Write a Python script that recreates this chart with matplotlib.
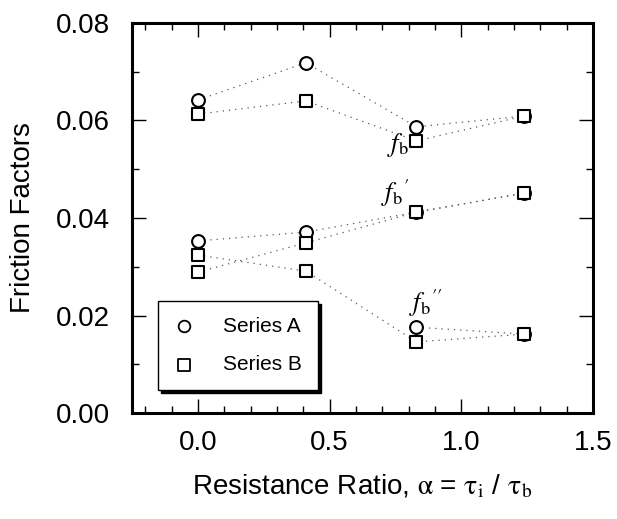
import matplotlib
matplotlib.use("Agg")
import matplotlib.pyplot as plt
import numpy as np
from matplotlib.ticker import MultipleLocator, FormatStrFormatter

# resistance ratio positions
alpha = [0.0, 0.41, 0.83, 1.24]

# f_b
fb_a = [0.0642, 0.0718, 0.0587, 0.0609]
fb_b = [0.0613, 0.0640, 0.0558, 0.0609]
# f_b'
fb1_a = [0.0353, 0.0371, 0.0412, 0.0451]
fb1_b = [0.0289, 0.0349, 0.0412, 0.0451]
# f_b''
fb2_a = [np.nan, np.nan, 0.0176, 0.0162]
fb2_b = [0.0324, 0.0291, 0.0146, 0.0162]

labels = {"fb": (0.76, 0.0550, r"$f_{\mathrm{b}}$"),
          "fb1": (0.75, 0.0450, r"$f_{\mathrm{b}}{}^{\prime}$"),
          "fb2": (0.865, 0.0225, r"$f_{\mathrm{b}}{}^{\prime\prime}$")}

plt.rcParams["font.family"] = "Liberation Sans"
plt.rcParams["mathtext.fontset"] = "stix"
plt.rcParams["font.size"] = 20

fig = plt.figure(figsize=(6.17, 5.19), dpi=100)
ax = fig.add_axes([0.214, 0.204, 0.747, 0.752])

line_kw = dict(color="0.35", linewidth=0.9, linestyle=(0, (1, 4)), zorder=1)
for ys in (fb_a, fb_b, fb1_a, fb1_b, fb2_a, fb2_b):
    ax.plot(alpha, ys, **line_kw)

mk = dict(s=85, facecolor="white", edgecolor="black", linewidths=1.5, zorder=3)
for ys in (fb_a, fb1_a, fb2_a):
    ax.scatter(alpha, ys, marker="o", **mk)
for ys in (fb_b, fb1_b, fb2_b):
    ax.scatter(alpha, ys, marker="s", **mk)

for x, y, txt in labels.values():
    ax.text(x, y, txt, fontsize=19, ha="center", va="center")

# legend handles
ax.scatter([], [], marker="o", s=70, facecolor="white", edgecolor="black", linewidths=1.3, label="Series A")
ax.scatter([], [], marker="s", s=70, facecolor="white", edgecolor="black", linewidths=1.3, label="Series B")
handles, names = ax.get_legend_handles_labels()
leg = ax.legend(handles[-2:], names[-2:], loc="lower left", bbox_to_anchor=(0.056, 0.059),
                borderaxespad=0, fontsize=15, frameon=True, fancybox=False,
                handletextpad=1.4, handlelength=1.0, borderpad=0.75, labelspacing=0.95,
                shadow={"color": "black", "alpha": 1.0})
leg.get_frame().set_edgecolor("black")
leg.get_frame().set_linewidth(1.0)

ax.set_xlim(-0.25, 1.5)
ax.set_ylim(0.0, 0.08)
ax.xaxis.set_major_locator(MultipleLocator(0.5))
ax.xaxis.set_minor_locator(MultipleLocator(0.1))
ax.yaxis.set_major_locator(MultipleLocator(0.02))
ax.yaxis.set_minor_locator(MultipleLocator(0.01))
ax.xaxis.set_major_formatter(FormatStrFormatter("%.1f"))
ax.yaxis.set_major_formatter(FormatStrFormatter("%.2f"))
ax.tick_params(which="both", direction="in", top=True, right=True, width=1)
ax.tick_params(which="major", length=10, pad=12)
ax.tick_params(axis="y", which="major", pad=16)
ax.tick_params(which="minor", length=5)
for sp in ax.spines.values():
    sp.set_linewidth(2.2)

ax.set_xlabel(r"Resistance Ratio, $\mathrm{\alpha}$ = $\mathrm{\tau_{i}}$ / $\mathrm{\tau_{b}}$", labelpad=12)
ax.set_ylabel("Friction Factors", labelpad=14)

fig.savefig("out.png", dpi=100)
